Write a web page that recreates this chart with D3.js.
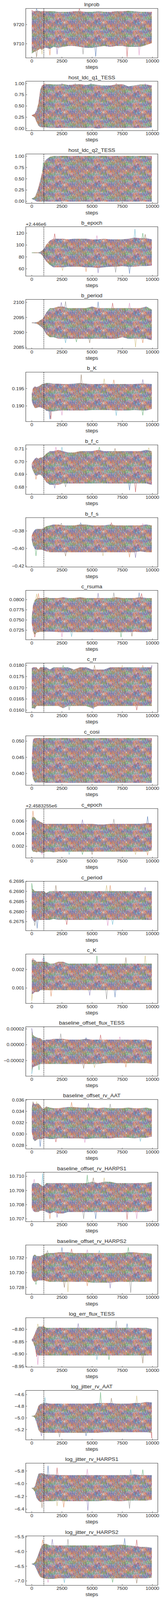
<!DOCTYPE html>
<html>
<head>
<meta charset="utf-8">
<script src="https://cdn.jsdelivr.net/npm/d3@7"></script>
<style>
  html, body { margin: 0; padding: 0; background: #fff; overflow: hidden; }
  svg { display: block; }
  text { font-family: "Liberation Sans", Arial, sans-serif; fill: #262626; }
</style>
</head>
<body>
<svg id="chart"></svg>
<script>
// Walker trace envelopes, one row per parameter.
const STEPS = [0, 100, 250, 400, 550, 700, 850, 1000, 1200, 1500, 1800, 2200, 2600, 3000,
               3500, 4000, 4500, 5000, 5500, 6000, 6500, 7000, 7500, 8000, 8500, 9000, 9500, 9950];
const BURN_IN = 1000;
const XTICKS = [0, 2500, 5000, 7500, 10000];
const XLIM = [-497.5, 10447.5];

const TITLES = ["lnprob", "host_ldc_q1_TESS", "host_ldc_q2_TESS", "b_epoch", "b_period", "b_K",
  "b_f_c", "b_f_s", "c_rsuma", "c_rr", "c_cosi", "c_epoch", "c_period", "c_K",
  "baseline_offset_flux_TESS", "baseline_offset_rv_AAT", "baseline_offset_rv_HARPS1",
  "baseline_offset_rv_HARPS2", "log_err_flux_TESS", "log_jitter_rv_AAT",
  "log_jitter_rv_HARPS1", "log_jitter_rv_HARPS2"];

const OFFSETS = ["", "", "", "+2.446e6", "", "", "", "", "", "", "", "+2.4583255e6",
  "", "", "", "", "", "", "", "", "", ""];

const YLIMS = [[9702.6, 9728.4], [-0.047, 1.05], [-0.045, 1.05], [47.7, 130.9],
  [2084.53, 2100.99], [0.1855, 0.1997], [0.6742, 0.7132], [-0.4212, -0.3648],
  [0.07015, 0.08227], [0.015895, 0.0181], [0.03637, 0.05165], [0.000158, 0.007953],
  [6.26705, 6.2695], [0.000166, 0.002834], [-3.98e-5, 2.27e-5], [0.02739, 0.03608],
  [10.7068, 10.71029], [10.72707, 10.73373], [-8.9529, -8.7529], [-5.3769, -4.5288],
  [-6.4535, -5.678], [-7.149, -5.468]];

const YTICKS = [[9710, 9720], [0, 0.25, 0.5, 0.75, 1], [0, 0.25, 0.5, 0.75, 1], [60, 80, 100, 120],
  [2085, 2090, 2095, 2100], [0.190, 0.195], [0.68, 0.69, 0.70, 0.71], [-0.42, -0.40, -0.38],
  [0.0725, 0.0750, 0.0775, 0.0800], [0.0160, 0.0165, 0.0170, 0.0175, 0.0180],
  [0.040, 0.045, 0.050], [0.002, 0.004, 0.006], [6.2675, 6.2680, 6.2685, 6.2690, 6.2695],
  [0.001, 0.002], [-0.00002, 0, 0.00002], [0.028, 0.030, 0.032, 0.034, 0.036],
  [10.707, 10.708, 10.709, 10.710], [10.728, 10.730, 10.732], [-8.95, -8.90, -8.85, -8.80],
  [-5.2, -5.0, -4.8, -4.6], [-6.4, -6.2, -6.0, -5.8], [-7.0, -6.5, -6.0, -5.5]];

const TICK_FORMATS = [".0f", ".2f", ".2f", ".0f", ".0f", ".3f", ".2f", ".2f", ".4f", ".4f",
  ".3f", ".3f", ".4f", ".3f", ".5f", ".3f", ".3f", ".3f", ".2f", ".1f", ".1f", ".1f"];

const UPPER = [
  [9727.5, 9727, 9726.8, 9727, 9727, 9726.8, 9726.8, 9727, 9726.8, 9726.8, 9726.8, 9726.5, 9726.5, 9726.5,
   9726.8, 9726.8, 9726.5, 9726.5, 9726.8, 9726.5, 9726.5, 9726.8, 9726.8, 9727, 9726.8, 9726.5, 9726.5, 9726.5],
  [0.29, 0.30, 0.32, 0.40, 0.55, 0.85, 0.95, 0.97, 0.98, 0.98, 0.97, 0.97, 0.98, 0.96,
   0.97, 0.98, 0.96, 0.98, 0.96, 0.95, 0.95, 0.97, 0.98, 0.93, 0.95, 0.97, 0.97, 0.95],
  [0.06, 0.065, 0.09, 0.18, 0.30, 0.45, 0.62, 0.80, 0.92, 0.98, 1.0, 1.0, 1.0, 1.0,
   1.0, 1.0, 1.0, 1.0, 1.0, 1.0, 1.0, 1.0, 1.0, 1.0, 1.0, 1.0, 1.0, 1.0],
  [87, 87, 87, 87, 87, 88, 90, 93, 100, 107, 110, 110, 110, 109,
   110, 110, 110, 109, 109, 110, 109, 109, 109, 110, 112, 111, 111, 109],
  [2093.2, 2093.2, 2093.2, 2093.3, 2093.5, 2094, 2094.3, 2095, 2096.5, 2098, 2098, 2098.5, 2098.5, 2098,
   2098, 2098, 2098, 2098.5, 2098, 2098, 2098, 2098, 2098, 2098, 2098, 2098, 2098.5, 2097.5],
  [0.1935, 0.1950, 0.1955, 0.1953, 0.1955, 0.1958, 0.1962, 0.1963, 0.1965, 0.1965, 0.1963, 0.1963, 0.1962, 0.1962,
   0.1963, 0.1965, 0.1963, 0.1962, 0.1962, 0.1963, 0.1962, 0.1962, 0.1962, 0.1962, 0.1962, 0.1963, 0.1963, 0.1962],
  [0.698, 0.700, 0.702, 0.703, 0.702, 0.703, 0.703, 0.704, 0.706, 0.708, 0.708, 0.709, 0.708, 0.707,
   0.707, 0.708, 0.708, 0.708, 0.709, 0.708, 0.708, 0.708, 0.708, 0.708, 0.708, 0.708, 0.709, 0.708],
  [-0.386, -0.382, -0.379, -0.378, -0.378, -0.378, -0.378, -0.377, -0.375, -0.374, -0.373, -0.373, -0.374, -0.374,
   -0.374, -0.373, -0.373, -0.374, -0.374, -0.374, -0.373, -0.374, -0.374, -0.374, -0.374, -0.374, -0.373, -0.374],
  [0.0757, 0.0785, 0.0798, 0.0802, 0.0803, 0.0803, 0.0803, 0.0803, 0.0805, 0.0803, 0.0803, 0.0803, 0.0805, 0.0803,
   0.0803, 0.0805, 0.0803, 0.0803, 0.0803, 0.0803, 0.0803, 0.0805, 0.0803, 0.0803, 0.0803, 0.0805, 0.0803, 0.0803],
  [0.01785, 0.0179, 0.0179, 0.0179, 0.0178, 0.0179, 0.0179, 0.0179, 0.0179, 0.0178, 0.0179, 0.0179, 0.0179, 0.0179,
   0.0178, 0.0179, 0.0179, 0.0178, 0.0178, 0.0178, 0.0179, 0.0179, 0.0179, 0.0179, 0.0179, 0.0179, 0.0179, 0.0179],
  [0.0442, 0.0505, 0.0509, 0.0509, 0.0509, 0.0509, 0.0509, 0.0509, 0.0509, 0.0509, 0.0509, 0.0509, 0.0509, 0.0509,
   0.0509, 0.0509, 0.0509, 0.0509, 0.0509, 0.0509, 0.0509, 0.0509, 0.0509, 0.0509, 0.0509, 0.0509, 0.0509, 0.0509],
  [0.0063, 0.0066, 0.0065, 0.0061, 0.0060, 0.0058, 0.0057, 0.0055, 0.0055, 0.0055, 0.0055, 0.0055, 0.0055, 0.0055,
   0.0055, 0.0055, 0.0055, 0.0055, 0.0054, 0.0054, 0.0055, 0.0055, 0.0055, 0.0055, 0.0055, 0.0055, 0.0056, 0.0056],
  [6.2691, 6.2691, 6.2690, 6.2690, 6.2690, 6.2690, 6.2690, 6.2690, 6.2689, 6.2690, 6.2690, 6.2690, 6.2690, 6.2690,
   6.2690, 6.2690, 6.2690, 6.2690, 6.2690, 6.2690, 6.2690, 6.2690, 6.2690, 6.2690, 6.2690, 6.2690, 6.2690, 6.2690],
  [0.0025, 0.0025, 0.0025, 0.0024, 0.0024, 0.0024, 0.0024, 0.0024, 0.0024, 0.0023, 0.0023, 0.0024, 0.0024, 0.0023,
   0.0023, 0.0023, 0.0023, 0.0023, 0.0023, 0.0023, 0.0023, 0.0023, 0.0023, 0.0023, 0.0023, 0.0023, 0.0023, 0.0023],
  [1.8e-5, 1.2e-5, 1.0e-5, 0.9e-5, 0.8e-5, 0.8e-5, 0.6e-5, 0.5e-5, 0.6e-5, 0.6e-5, 0.7e-5, 0.7e-5, 0.7e-5, 0.6e-5,
   0.6e-5, 0.6e-5, 0.7e-5, 0.6e-5, 0.6e-5, 0.6e-5, 0.6e-5, 0.6e-5, 0.6e-5, 0.6e-5, 0.6e-5, 0.6e-5, 0.6e-5, 0.5e-5],
  [0.0345, 0.0355, 0.0352, 0.0353, 0.0353, 0.0350, 0.0345, 0.0344, 0.0348, 0.0346, 0.0345, 0.0345, 0.0346, 0.0347,
   0.0347, 0.0346, 0.0346, 0.0346, 0.0345, 0.0346, 0.0345, 0.0345, 0.0345, 0.0346, 0.0345, 0.0345, 0.0346, 0.0344],
  [10.7094, 10.7095, 10.7095, 10.7095, 10.7095, 10.7094, 10.7093, 10.7093, 10.7095, 10.7095, 10.7095, 10.7095, 10.7095, 10.7095,
   10.7095, 10.7095, 10.7095, 10.7096, 10.7095, 10.7096, 10.7096, 10.7095, 10.7095, 10.7095, 10.7095, 10.7095, 10.7095, 10.7096],
  [10.7312, 10.7322, 10.7324, 10.7322, 10.7322, 10.7322, 10.7323, 10.7324, 10.7326, 10.7326, 10.7326, 10.7327, 10.7327, 10.7327,
   10.7326, 10.7326, 10.7326, 10.7326, 10.7326, 10.7326, 10.7326, 10.7326, 10.7326, 10.7327, 10.7327, 10.7326, 10.7326, 10.7325],
  [-8.843, -8.835, -8.82, -8.80, -8.79, -8.79, -8.79, -8.79, -8.795, -8.795, -8.795, -8.795, -8.795, -8.795,
   -8.795, -8.795, -8.795, -8.795, -8.795, -8.795, -8.795, -8.795, -8.795, -8.795, -8.795, -8.795, -8.795, -8.80],
  [-4.97, -4.97, -4.96, -4.90, -4.80, -4.77, -4.76, -4.75, -4.75, -4.76, -4.76, -4.76, -4.76, -4.76,
   -4.76, -4.76, -4.76, -4.76, -4.75, -4.75, -4.75, -4.76, -4.76, -4.76, -4.75, -4.75, -4.73, -4.74],
  [-6.07, -6.07, -6.05, -5.95, -5.85, -5.84, -5.84, -5.85, -5.86, -5.86, -5.86, -5.87, -5.87, -5.87,
   -5.87, -5.87, -5.87, -5.87, -5.87, -5.87, -5.87, -5.87, -5.87, -5.87, -5.86, -5.87, -5.87, -5.87],
  [-6.42, -6.42, -6.38, -6.25, -6.10, -5.92, -5.80, -5.75, -5.75, -5.80, -5.80, -5.80, -5.80, -5.80,
   -5.80, -5.80, -5.80, -5.80, -5.80, -5.80, -5.80, -5.78, -5.78, -5.80, -5.82, -5.85, -5.85, -5.88]
];

const LOWER = [
  [9705, 9705.5, 9706, 9706.5, 9707, 9707.5, 9707, 9708, 9708, 9707.5, 9708.5, 9708, 9708.5, 9709,
   9709, 9708.5, 9708, 9708, 9708.5, 9709, 9708.5, 9709, 9709, 9708.5, 9708.5, 9708.5, 9709.5, 9710.5],
  [0.29, 0.28, 0.25, 0.15, 0.07, 0.04, 0.03, 0.03, 0.03, 0.02, 0.02, 0.02, 0.02, 0.02,
   0.02, 0.02, 0.02, 0.02, 0.01, 0.02, 0.02, 0.02, 0.02, 0.02, 0.02, 0.02, 0.02, 0.03],
  [0.06, 0.05, 0.03, 0.005, 0, 0, 0, 0, 0, 0, 0, 0, 0, 0,
   0, 0, 0, 0, 0, 0, 0, 0, 0, 0, 0, 0, 0, 0],
  [87, 87, 87, 87, 87, 86, 84, 79, 73, 67, 63, 63, 63, 64,
   64, 64, 63, 63, 62, 63, 64, 64, 65, 64, 64, 65, 65, 66],
  [2093.2, 2093.2, 2093.1, 2093, 2092.7, 2092.2, 2091.8, 2091, 2089.5, 2088.5, 2088.5, 2088, 2088, 2088,
   2088, 2088, 2088, 2088, 2088, 2088, 2088, 2088, 2088.5, 2088, 2088, 2088, 2088, 2087.5],
  [0.1915, 0.1905, 0.1895, 0.1895, 0.1897, 0.1897, 0.1895, 0.1893, 0.1887, 0.1885, 0.1885, 0.1887, 0.1888, 0.1888,
   0.1888, 0.1888, 0.1888, 0.1889, 0.1889, 0.1889, 0.1889, 0.1888, 0.1888, 0.1888, 0.1889, 0.1888, 0.1888, 0.1892],
  [0.696, 0.693, 0.690, 0.689, 0.690, 0.690, 0.689, 0.687, 0.684, 0.682, 0.682, 0.682, 0.683, 0.683,
   0.683, 0.683, 0.683, 0.683, 0.683, 0.683, 0.683, 0.683, 0.683, 0.683, 0.683, 0.683, 0.683, 0.682],
  [-0.390, -0.396, -0.400, -0.401, -0.401, -0.401, -0.401, -0.402, -0.403, -0.404, -0.404, -0.404, -0.404, -0.404,
   -0.404, -0.404, -0.404, -0.404, -0.404, -0.404, -0.404, -0.404, -0.404, -0.404, -0.404, -0.403, -0.404, -0.404],
  [0.0742, 0.0722, 0.0715, 0.0720, 0.0721, 0.0722, 0.0722, 0.0722, 0.0722, 0.0722, 0.0722, 0.0721, 0.0721, 0.0721,
   0.0721, 0.0721, 0.0721, 0.0721, 0.0721, 0.0721, 0.0721, 0.0721, 0.0721, 0.0721, 0.0722, 0.0721, 0.0721, 0.0722],
  [0.0161, 0.0161, 0.0161, 0.0162, 0.0162, 0.0162, 0.0162, 0.0162, 0.0162, 0.0162, 0.0162, 0.0162, 0.0161, 0.0162,
   0.0162, 0.0162, 0.0162, 0.0161, 0.0162, 0.0162, 0.0162, 0.0162, 0.0162, 0.0162, 0.0162, 0.0162, 0.0162, 0.0162],
  [0.0415, 0.0385, 0.0373, 0.0373, 0.0373, 0.0373, 0.0373, 0.0373, 0.0372, 0.0372, 0.0372, 0.0372, 0.0372, 0.0372,
   0.0372, 0.0372, 0.0372, 0.0372, 0.0372, 0.0372, 0.0372, 0.0372, 0.0372, 0.0372, 0.0372, 0.0372, 0.0372, 0.0372],
  [0.0015, 0.0012, 0.0012, 0.0011, 0.0012, 0.0011, 0.0010, 0.0011, 0.0012, 0.0012, 0.0011, 0.0012, 0.0012, 0.0012,
   0.0012, 0.0012, 0.0012, 0.0012, 0.0012, 0.0012, 0.0012, 0.0012, 0.0012, 0.0012, 0.0012, 0.0012, 0.0012, 0.0014],
  [6.2677, 6.2676, 6.2675, 6.2676, 6.2676, 6.2676, 6.2676, 6.2676, 6.2676, 6.2676, 6.26765, 6.2676, 6.2676, 6.2676,
   6.2676, 6.2676, 6.2676, 6.2676, 6.2676, 6.2676, 6.2676, 6.2676, 6.2676, 6.2676, 6.2676, 6.2676, 6.2676, 6.2676],
  [0.0007, 0.0007, 0.0008, 0.0008, 0.0008, 0.0009, 0.0009, 0.0009, 0.0009, 0.0009, 0.0009, 0.0009, 0.0009, 0.0009,
   0.0009, 0.0009, 0.0009, 0.0009, 0.0009, 0.0009, 0.0009, 0.0009, 0.0009, 0.0009, 0.0009, 0.0009, 0.0009, 0.0009],
  [-3.4e-5, -2.8e-5, -2.7e-5, -2.6e-5, -2.5e-5, -2.4e-5, -2.4e-5, -2.4e-5, -2.4e-5, -2.4e-5, -2.4e-5, -2.4e-5, -2.4e-5, -2.4e-5,
   -2.4e-5, -2.4e-5, -2.4e-5, -2.4e-5, -2.4e-5, -2.3e-5, -2.3e-5, -2.3e-5, -2.3e-5, -2.3e-5, -2.3e-5, -2.3e-5, -2.3e-5, -2.4e-5],
  [0.0305, 0.0292, 0.0288, 0.0290, 0.0292, 0.0292, 0.0292, 0.0293, 0.0293, 0.0292, 0.0292, 0.0293, 0.0293, 0.0293,
   0.0293, 0.0293, 0.0292, 0.0293, 0.0293, 0.0293, 0.0293, 0.0294, 0.0294, 0.0294, 0.0293, 0.0294, 0.0294, 0.0296],
  [10.7078, 10.7076, 10.7075, 10.7075, 10.7075, 10.7076, 10.7076, 10.7076, 10.7075, 10.7074, 10.7075, 10.7074, 10.7074, 10.7075,
   10.7075, 10.7075, 10.7075, 10.7075, 10.7075, 10.7075, 10.7075, 10.7075, 10.7075, 10.7075, 10.7075, 10.7075, 10.7075, 10.7076],
  [10.7295, 10.7290, 10.7288, 10.7289, 10.7290, 10.7290, 10.7290, 10.7290, 10.7289, 10.7288, 10.7288, 10.7288, 10.7288, 10.7288,
   10.7288, 10.7288, 10.7288, 10.7287, 10.7287, 10.7287, 10.7287, 10.7288, 10.7288, 10.7288, 10.7288, 10.7288, 10.7288, 10.7288],
  [-8.843, -8.85, -8.87, -8.90, -8.905, -8.905, -8.905, -8.905, -8.905, -8.905, -8.905, -8.905, -8.905, -8.905,
   -8.905, -8.905, -8.905, -8.905, -8.905, -8.905, -8.905, -8.905, -8.905, -8.905, -8.905, -8.905, -8.905, -8.905],
  [-4.97, -4.97, -4.99, -5.08, -5.20, -5.24, -5.25, -5.25, -5.25, -5.25, -5.25, -5.25, -5.25, -5.25,
   -5.25, -5.25, -5.25, -5.25, -5.25, -5.24, -5.24, -5.24, -5.24, -5.24, -5.24, -5.24, -5.24, -5.25],
  [-6.07, -6.08, -6.12, -6.22, -6.26, -6.28, -6.28, -6.27, -6.27, -6.27, -6.27, -6.26, -6.27, -6.27,
   -6.27, -6.27, -6.27, -6.27, -6.27, -6.26, -6.26, -6.27, -6.27, -6.26, -6.26, -6.26, -6.26, -6.25],
  [-6.42, -6.43, -6.47, -6.60, -6.75, -6.85, -6.88, -6.90, -6.92, -6.92, -6.92, -6.90, -6.90, -6.90,
   -6.90, -6.90, -6.90, -6.90, -6.90, -6.90, -6.90, -6.90, -6.90, -6.90, -6.90, -6.90, -6.90, -6.88]
];

// Single-walker excursions beyond the envelope, [step, value].
const UPPER_SPIKES = [
  [[400, 9728.3], [3950, 9728.3]],
  [[1100, 1.0], [2500, 1.0], [3600, 1.0], [4900, 1.0], [7000, 1.0], [9400, 1.0]],
  [[950, 0.85], [1100, 0.9]],
  [[1900, 119], [5400, 116], [8550, 127], [9200, 120], [9400, 118]],
  [[2450, 2100], [2800, 2100.3], [5500, 2100.2], [6700, 2099.8], [8100, 2099.8]],
  [[4100, 0.1990], [6000, 0.1978], [6800, 0.1975], [9200, 0.1976]],
  [[2000, 0.7115], [2500, 0.7115], [5600, 0.7115], [6900, 0.7105], [9700, 0.711]],
  [[2450, -0.371], [4050, -0.3705], [6600, -0.3705], [9200, -0.3715]],
  [[400, 0.0814], [550, 0.0815], [5500, 0.0816], [6800, 0.0817], [8900, 0.0817], [9100, 0.0815]],
  [[1000, 0.0180], [2600, 0.0180], [5200, 0.0180], [7500, 0.0180], [9200, 0.0180], [9950, 0.0180]],
  [],
  [[100, 0.0076], [4200, 0.0062], [6800, 0.0063], [9600, 0.0067]],
  [[0, 6.2694], [2000, 6.2693], [6200, 6.2693], [6500, 6.2693], [9400, 6.2692]],
  [[100, 0.0026], [900, 0.0026], [1000, 0.0027], [5400, 0.00275], [7800, 0.00265], [9400, 0.00275]],
  [[0, 2.1e-5], [2400, 1.4e-5], [4500, 0.9e-5], [5700, 1.25e-5], [7300, 1.0e-5]],
  [[100, 0.0357], [400, 0.0357], [3300, 0.0356], [4700, 0.0354], [6500, 0.0353]],
  [[200, 10.7098], [900, 10.7102], [4600, 10.7101], [5100, 10.7099], [6000, 10.7099]],
  [[1300, 10.7330], [2500, 10.7334], [3300, 10.7332], [4600, 10.7331], [5600, 10.7330], [8000, 10.7334]],
  [[500, -8.778], [950, -8.783], [3850, -8.776], [7000, -8.765], [7900, -8.777]],
  [[1100, -4.65], [5700, -4.56], [6600, -4.66], [8700, -4.62]],
  [[1350, -5.72], [2100, -5.75], [4600, -5.77], [8200, -5.78], [9200, -5.78]],
  [[900, -5.6], [1700, -5.58], [3000, -5.58], [7700, -5.55], [8700, -5.6]]
];

const LOWER_SPIKES = [
  [[400, 9703], [850, 9704.5], [1500, 9704], [2100, 9704.5], [4250, 9704.5], [5300, 9703.3], [7900, 9703], [8900, 9704]],
  [],
  [],
  [[2550, 57], [4500, 55], [5500, 53], [6950, 54], [8100, 52]],
  [[2800, 2086.5], [3700, 2086.8], [4800, 2086.5], [8600, 2085.1], [9200, 2086.5]],
  [[1500, 0.1862], [1580, 0.1862], [2500, 0.1873], [7000, 0.1872], [9200, 0.1873]],
  [[350, 0.686], [1900, 0.679], [2800, 0.680], [8100, 0.6775], [8600, 0.676]],
  [[350, -0.4085], [2800, -0.4087], [5900, -0.4085], [8100, -0.4100], [8600, -0.4105]],
  [[250, 0.0708], [2500, 0.0708], [3300, 0.0709], [7400, 0.0708], [8300, 0.0710]],
  [[250, 0.01605], [3100, 0.0160], [5100, 0.01605], [8700, 0.0160]],
  [],
  [[850, 0.0007], [3100, 0.0007], [4200, 0.0007], [5000, 0.0007], [8600, 0.0007], [9600, 0.0006]],
  [[250, 6.2673], [450, 6.26717], [2900, 6.26735], [6300, 6.2673], [6700, 6.26735]],
  [[0, 0.0003], [1600, 0.00055], [4800, 0.0006], [6200, 0.0004], [6900, 0.0005]],
  [[0, -3.7e-5], [600, -3.2e-5], [4300, -3.0e-5], [5200, -2.9e-5], [7800, -2.85e-5]],
  [[700, 0.0278], [2000, 0.0286], [4400, 0.0285], [9000, 0.0287]],
  [[1500, 10.7070], [2100, 10.7071], [4300, 10.7070], [5300, 10.7070], [7900, 10.70695], [8700, 10.7070]],
  [[350, 10.7284], [2700, 10.7280], [3000, 10.7274], [4600, 10.7282], [6500, 10.7279], [8200, 10.7273]],
  [[400, -8.91], [500, -8.943], [5400, -8.923], [6400, -8.923], [9200, -8.937]],
  [[800, -5.31], [2300, -5.33], [4500, -5.31], [9950, -5.35]],
  [[850, -6.38], [2100, -6.35], [2650, -6.37], [4650, -6.42], [8100, -6.39]],
  [[1350, -7.05], [2700, -7.06], [6700, -7.05], [8700, -7.08]]
];

// seaborn "deep" colour cycle
const PALETTE = ["#4C72B0", "#DD8452", "#55A868", "#C44E52", "#8172B3",
                 "#937860", "#DA8BC3", "#8C8C8C", "#CCB974", "#64B5CD"];

// Everything is laid out in a 415 x 4519 frame; the window may be shorter,
// so the frame is squeezed into whatever height the page really has.
const width = 415, height = 4519;
const margin = {left: 66, top: 24};
const panelW = 338.3, panelH = 139.5, stride = 205.43;
const pageH = window.innerHeight || height;

const svg = d3.select("#chart")
    .attr("width", width)
    .attr("height", pageH)
    .attr("viewBox", "0 0 " + width + " " + height)
    .attr("preserveAspectRatio", "none");
const defs = svg.append("defs");

// Fill texture for the dense tangle of walkers: jagged wandering strands.
const JIT = [0.52, 0.13, 0.88, 0.37, 0.71, 0.05, 0.64, 0.29, 0.93, 0.18, 0.46, 0.81, 0.02,
             0.57, 0.34, 0.99, 0.23, 0.68, 0.41, 0.76, 0.09, 0.85, 0.31, 0.60, 0.15, 0.95,
             0.48, 0.26, 0.73, 0.07, 0.90, 0.39, 0.62, 0.20, 0.83, 0.44, 0.11];
const tileW = 100, tileH = 48, strands = 24;
const pattern = defs.append("pattern")
    .attr("id", "traces")
    .attr("patternUnits", "userSpaceOnUse")
    .attr("width", tileW)
    .attr("height", tileH);
d3.range(strands).forEach(function(L) {
    let base = (L + 0.5) * tileH / strands;
    let cycles = 1 + L % 3;
    let pts = d3.range(81).map(j => [j * 1.25 + (L % 5) * 0.25,
        base + 18 * (JIT[(j * 5 + L * 11) % 37] - 0.5)
             + 5 * Math.sin(2 * Math.PI * cycles * j / 80 + L)]);
    [-tileH, 0, tileH].forEach(function(dy) {
        pattern.append("path")
            .attr("d", d3.line()(pts))
            .attr("transform", "translate(0," + dy + ")")
            .attr("fill", "none")
            .attr("stroke", PALETTE[(L * 7) % 10])
            .attr("stroke-width", 0.85);
    });
});

const x = d3.scaleLinear().domain(XLIM).range([0, panelW]);

/**
 * Value of an envelope at a given step, used to anchor the excursions.
 */
function edgeAt(arr, s) {
    let k = Math.min(d3.bisectRight(STEPS, s), STEPS.length - 1);
    let k0 = Math.max(k - 1, 0);
    let t = STEPS[k] === STEPS[k0] ? 0 : (s - STEPS[k0]) / (STEPS[k] - STEPS[k0]);
    return arr[k0] + Math.min(Math.max(t, 0), 1) * (arr[k] - arr[k0]);
}

TITLES.forEach(function(title, i) {
    let g = svg.append("g")
        .attr("transform", "translate(" + margin.left + "," + (margin.top + i * stride) + ")");
    let y = d3.scaleLinear().domain(YLIMS[i]).range([panelH, 0]);

    defs.append("clipPath").attr("id", "ax" + i)
        .append("rect").attr("width", panelW).attr("height", panelH);

    // Walker band
    let band = STEPS.map((s, k) => ({s: s, lo: LOWER[i][k], hi: UPPER[i][k]}));
    let area = d3.area()
        .x(d => x(d.s))
        .y0(d => y(d.lo) + 0.9)
        .y1(d => y(d.hi) - 0.9);
    defs.append("clipPath").attr("id", "env" + i)
        .append("path").attr("d", area(band));

    let plot = g.append("g").attr("clip-path", "url(#ax" + i + ")");
    plot.append("rect")
        .attr("width", panelW)
        .attr("height", panelH)
        .attr("fill", "url(#traces)")
        .attr("clip-path", "url(#env" + i + ")");

    // Excursions beyond the band
    let line = d3.line().x(d => x(d[0])).y(d => y(d[1]));
    let drawSpike = function(edge, sp, k) {
        let a = Math.max(0, sp[0] - 70), b = Math.min(9950, sp[0] + 70);
        plot.append("path")
            .attr("d", line([[a, edgeAt(edge, a)], sp, [b, edgeAt(edge, b)]]))
            .attr("fill", "none")
            .attr("stroke", PALETTE[(k * 3 + i) % 10])
            .attr("stroke-width", 1)
            .attr("stroke-opacity", 0.9);
    };
    UPPER_SPIKES[i].forEach((sp, k) => drawSpike(UPPER[i], sp, k));
    LOWER_SPIKES[i].forEach((sp, k) => drawSpike(LOWER[i], sp, k + 5));

    // Burn-in marker
    g.append("line")
        .attr("x1", x(BURN_IN)).attr("x2", x(BURN_IN))
        .attr("y1", 0).attr("y2", panelH)
        .attr("stroke", "#000")
        .attr("stroke-width", 1)
        .attr("stroke-dasharray", "3.7,1.6");

    // Frame
    g.append("rect")
        .attr("width", panelW).attr("height", panelH)
        .attr("fill", "none").attr("stroke", "#262626").attr("stroke-width", 1);

    // y ticks (inward)
    let fmt = d3.format(TICK_FORMATS[i]);
    YTICKS[i].forEach(function(v) {
        g.append("line")
            .attr("x1", 0).attr("x2", 3.5)
            .attr("y1", y(v)).attr("y2", y(v))
            .attr("stroke", "#262626").attr("stroke-width", 0.8);
        g.append("text")
            .attr("x", -4).attr("y", y(v)).attr("dy", "0.35em")
            .attr("text-anchor", "end")
            .style("font-size", "12.5px")
            .text(fmt(v));
    });

    // x ticks (inward)
    XTICKS.forEach(function(v) {
        g.append("line")
            .attr("x1", x(v)).attr("x2", x(v))
            .attr("y1", panelH).attr("y2", panelH - 3.5)
            .attr("stroke", "#262626").attr("stroke-width", 0.8);
        g.append("text")
            .attr("x", x(v)).attr("y", panelH + 13)
            .attr("text-anchor", "middle")
            .style("font-size", "12.5px")
            .text(v);
    });

    g.append("text")
        .attr("x", panelW / 2).attr("y", panelH + 31)
        .attr("text-anchor", "middle")
        .style("font-size", "13.5px")
        .text("steps");

    g.append("text")
        .attr("x", panelW / 2).attr("y", -6)
        .attr("text-anchor", "middle")
        .style("font-size", "14px")
        .text(title);

    if (OFFSETS[i]) {
        g.append("text")
            .attr("x", 0).attr("y", -3)
            .style("font-size", "12.5px")
            .text(OFFSETS[i]);
    }
});
</script>
</body>
</html>
